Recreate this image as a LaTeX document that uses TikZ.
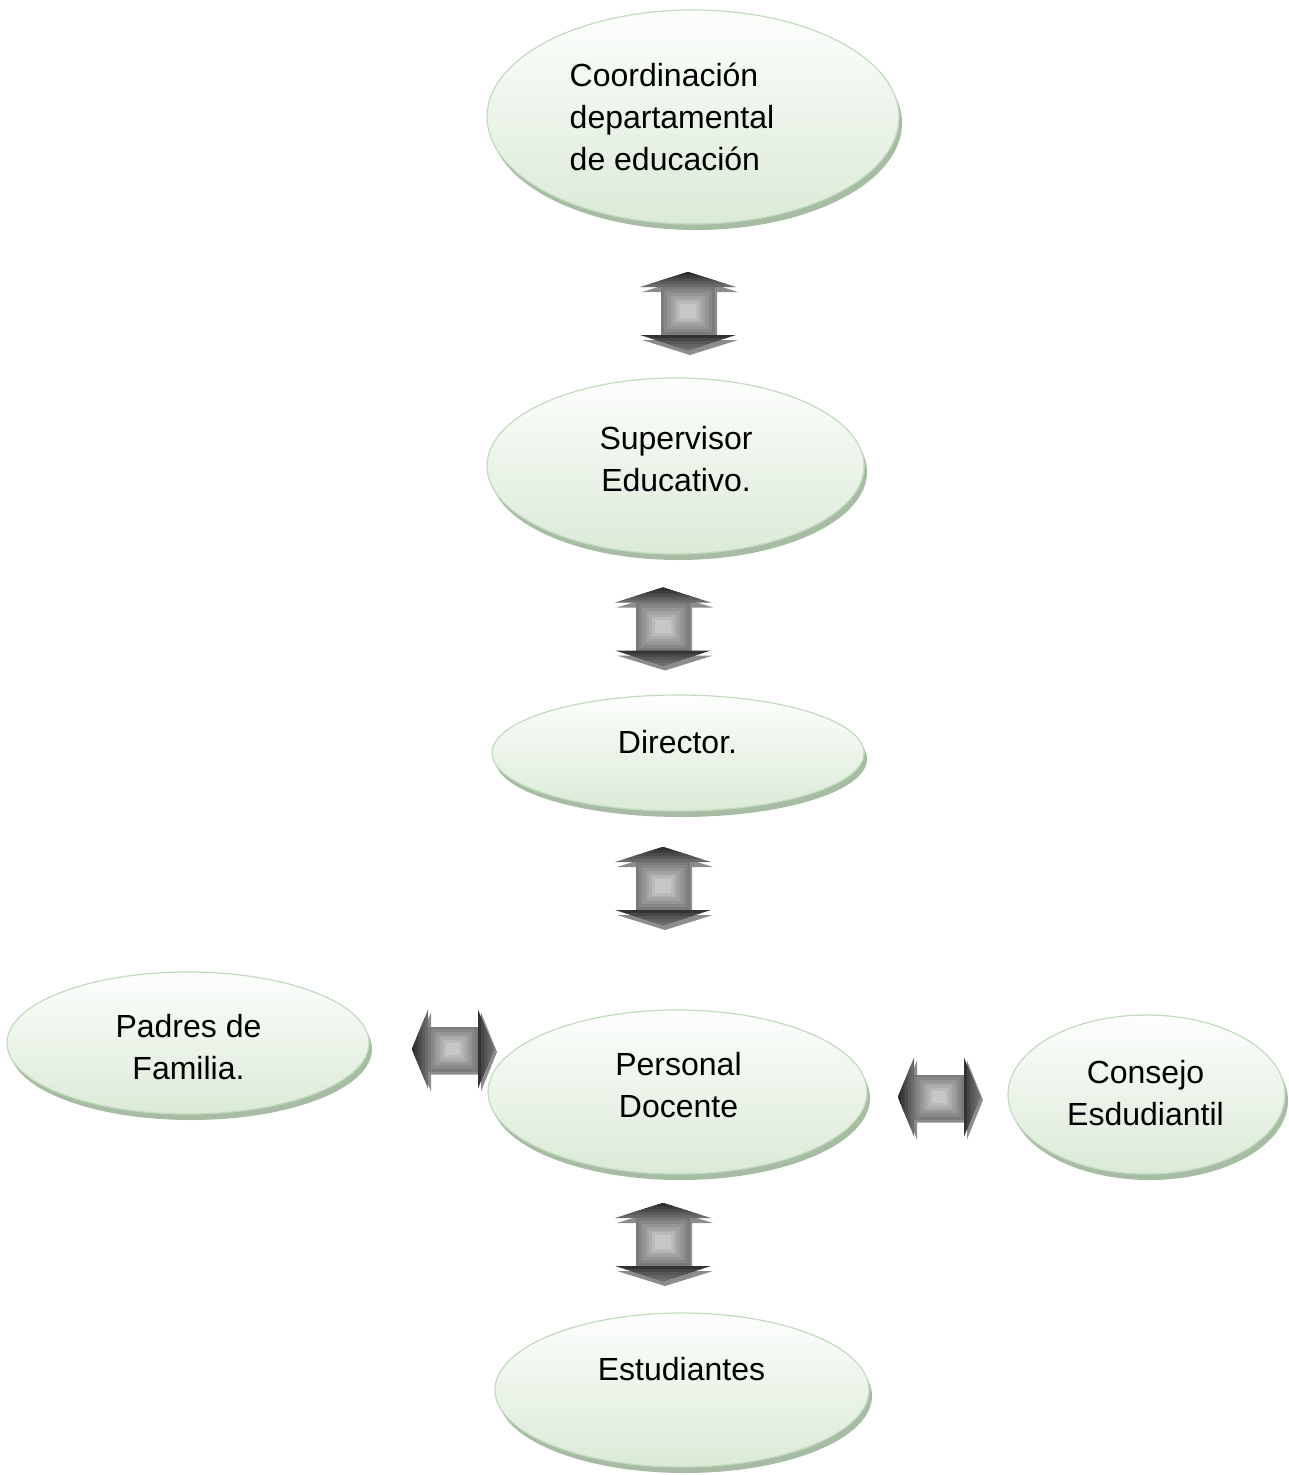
\documentclass[tikz,border=0pt]{standalone}
\usepackage{fontspec}
\setmainfont{Liberation Sans}
\usetikzlibrary{shapes.geometric,shadows}
\definecolor{elltop}{HTML}{FDFEFD}
\definecolor{ellbot}{HTML}{DBEAD7}
\definecolor{ellline}{HTML}{C2DBBE}
\definecolor{ellshadow}{HTML}{A7BDA3}
\definecolor{arrsh}{HTML}{8C8C8C}
\def\arrL{39}\def\arrH{15}\def\arrHW{48}\def\arrSW{27}\def\arrDX{2}\def\arrDY{-5}
\tikzset{
  arr/.cd,
  len/.store in=\arrL, head/.store in=\arrH, hw/.store in=\arrHW,
  sw/.store in=\arrSW, sdx/.store in=\arrDX, sdy/.store in=\arrDY,
}
\tikzset{
  pics/dblarrow/.style={code={
    \pgfmathsetmacro\arrHB{\arrL-\arrH}
    % extruded shadow copy
    \begin{scope}[shift={(\arrDX,\arrDY)}]
      \fill[arrsh] (0,\arrL) -- (\arrHW,\arrHB) -- (\arrSW,\arrHB) -- (\arrSW,-\arrHB)
        -- (\arrHW,-\arrHB) -- (0,-\arrL) -- (-\arrHW,-\arrHB) -- (-\arrSW,-\arrHB)
        -- (-\arrSW,\arrHB) -- (-\arrHW,\arrHB) -- cycle;
    \end{scope}
    % shaft with concentric steps
    \foreach \aK in {0,...,6}{
      \pgfmathsetmacro\aS{1-0.12*\aK}
      \pgfmathtruncatemacro\aC{52-5*\aK}
      \fill[black!\aC] (-\arrSW*\aS,-\arrHB*\aS) rectangle (\arrSW*\aS,\arrHB*\aS);
    }
    % first head
    \foreach \aF/\aC in {1/58,0.8/64,0.6/70,0.4/76,0.2/82}{
      \fill[black!\aC] (0,\arrL) -- (\arrHW*\aF,\arrL-\arrH*\aF) -- (-\arrHW*\aF,\arrL-\arrH*\aF) -- cycle;
    }
    % second head
    \foreach \aF/\aC in {1/80,0.8/72,0.6/66,0.4/61,0.2/57}{
      \fill[black!\aC] (0,-\arrL) -- (\arrHW*\aF,-\arrL+\arrH*\aF) -- (-\arrHW*\aF,-\arrL+\arrH*\aF) -- cycle;
    }
  }},
  ell/.style={ellipse, draw=ellline, line width=1.2pt, top color=elltop,
    bottom color=ellbot, inner sep=0pt,
    drop shadow={shadow xshift=3pt, shadow yshift=-6pt, fill=ellshadow, opacity=1}},
  txt/.style={font=\fontsize{32}{42}\selectfont, align=center, inner sep=0pt},
  harrow/.style={rotate=90, arr/len=41, arr/head=16, arr/hw=39.5, arr/sw=22.5, arr/sdx=-3, arr/sdy=-3},
}
\begin{document}
\begin{tikzpicture}[x=1pt,y=1pt]
\useasboundingbox (0,0) rectangle (1289,-1475);

% ellipses
\node[ell, minimum width=412pt, minimum height=214pt] (coord) at (693,-117) {};
\node[ell, minimum width=377pt, minimum height=176pt] (super) at (675.5,-466) {};
\node[ell, minimum width=372pt, minimum height=116pt] (dir) at (678,-753) {};
\node[ell, minimum width=379pt, minimum height=164pt] (pers) at (677.5,-1092) {};
\node[ell, minimum width=362pt, minimum height=142pt] (padres) at (188,-1043) {};
\node[ell, minimum width=277pt, minimum height=159pt] (consejo) at (1146.5,-1094.5) {};
\node[ell, minimum width=374pt, minimum height=154pt] (est) at (682,-1390) {};

% texts
\node[txt, align=left] (coordtxt) at (672,-117) {Coordinación\\departamental\\de educación};
\node[txt] (supertxt) at (676,-459) {Supervisor\\Educativo.};
\node[txt] (dirtxt) at (677.5,-742) {Director.};
\node[txt] (perstxt) at (678.5,-1085) {Personal\\Docente};
\node[txt] (padrestxt) at (188.5,-1047) {Padres de\\Familia.};
\node[txt] (consejotxt) at (1145.5,-1093) {Consejo\\Esdudiantil};
\node[txt] (esttxt) at (681.5,-1369) {Estudiantes};

% block arrows
\pic (a1) at (688,-311) {dblarrow};
\pic (a2) at (663,-626.5) {dblarrow};
\pic (a3) at (663,-886) {dblarrow};
\pic (a4) at (663,-1242) {dblarrow};
\pic[harrow] (a5) at (453,-1049) {dblarrow};
\pic[harrow] (a6) at (939,-1097) {dblarrow};
\end{tikzpicture}
\end{document}
